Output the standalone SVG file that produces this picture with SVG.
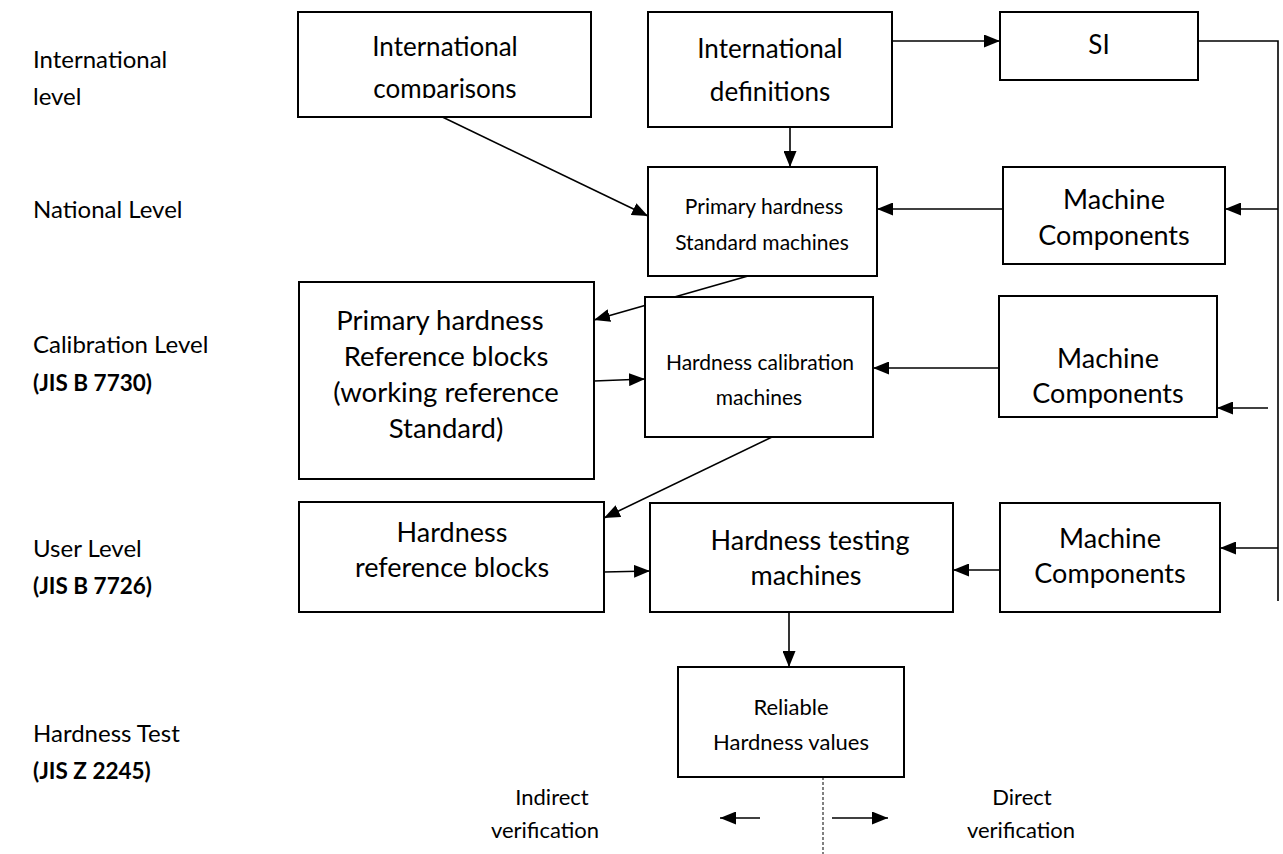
<svg xmlns="http://www.w3.org/2000/svg" width="1283" height="854" viewBox="0 0 1283 854">
<style>
.box{fill:#fff;stroke:#000;stroke-width:2}
.t{font-family:Lato,"Liberation Sans",sans-serif;font-size:21px;fill:#000;text-anchor:middle}
.l{font-family:Lato,"Liberation Sans",sans-serif;font-size:24px;fill:#000}
.b{font-weight:bold;font-size:22.5px}
.s26{font-size:26px}
.s27{font-size:27px}
.s28{font-size:27.5px}
.s22{font-size:22px}
.c{stroke:#000;stroke-width:1.6;fill:none}
.a{marker-end:url(#ah)}
</style>
<defs>
<marker id="ah" markerWidth="16" markerHeight="13" refX="16" refY="6.5" orient="auto" markerUnits="userSpaceOnUse">
<path d="M0,0 L16,6.5 L0,13 Z" fill="#000"/>
</marker>
<clipPath id="clipComp"><rect x="298" y="12" width="294" height="86"/></clipPath>
</defs>
<rect width="1283" height="854" fill="#fff"/>
<g id="levels">
<text class="l" x="33" y="68">International</text>
<text class="l" x="33" y="105">level</text>
<text class="l" x="33" y="218">National Level</text>
<text class="l" x="33" y="353">Calibration Level</text>
<text class="l b" x="33" y="391">(JIS B 7730)</text>
<text class="l" x="33" y="557">User Level</text>
<text class="l b" x="33" y="594">(JIS B 7726)</text>
<text class="l" x="33" y="742">Hardness Test</text>
<text class="l b" x="33" y="779">(JIS Z 2245)</text>
</g>
<g id="connectors">
<line class="c a" x1="432" y1="112" x2="648" y2="216"/>
<line class="c a" x1="790" y1="110" x2="790" y2="167"/>
<line class="c a" x1="892" y1="41" x2="1000" y2="41"/>
<polyline class="c" points="1198,41 1278,41 1278,601"/>
<line class="c a" x1="1278" y1="209" x2="1225" y2="209"/>
<line class="c a" x1="1003" y1="209" x2="877" y2="209"/>
<line class="c a" x1="748" y1="276" x2="594" y2="320"/>
<line class="c a" x1="594" y1="381" x2="645" y2="379"/>
<line class="c a" x1="1268" y1="408" x2="1217" y2="408"/>
<line class="c a" x1="999" y1="368" x2="873" y2="368"/>
<line class="c a" x1="772" y1="437" x2="604" y2="518"/>
<line class="c a" x1="604" y1="572" x2="650" y2="571"/>
<line class="c a" x1="1000" y1="570" x2="953" y2="570"/>
<line class="c a" x1="1278" y1="548" x2="1220" y2="548"/>
<line class="c a" x1="789" y1="612" x2="789" y2="667"/>
<line x1="823" y1="777" x2="823" y2="854" stroke="#000" stroke-width="1" stroke-dasharray="3,2"/>
<line class="c a" x1="760" y1="818" x2="720" y2="818"/>
<line class="c a" x1="832" y1="818" x2="888" y2="818"/>
</g>
<g id="n-comparisons">
<rect class="box" x="298" y="12" width="293" height="105"/>
<g clip-path="url(#clipComp)">
<text class="t s26" x="445" y="56">International</text>
<text class="t s26" x="445" y="98">comparisons</text>
</g>
</g>
<g id="n-definitions">
<rect class="box" x="648" y="12" width="244" height="115"/>
<text class="t s26" x="770" y="58">International</text>
<text class="t s26" x="770" y="101">definitions</text>
</g>
<g id="n-si">
<rect class="box" x="1000" y="12" width="198" height="68"/>
<text class="t s26" x="1099" y="54">SI</text>
</g>
<g id="n-primary-std">
<rect class="box" x="648" y="167" width="229" height="109"/>
<text class="t" x="764" y="214">Primary hardness</text>
<text class="t" x="762" y="250">Standard machines</text>
</g>
<g id="n-mc1">
<rect class="box" x="1003" y="167" width="222" height="97"/>
<text class="t s27" x="1114" y="209">Machine</text>
<text class="t s27" x="1114" y="245">Components</text>
</g>
<g id="n-ref-blocks">
<rect class="box" x="299" y="282" width="295" height="197"/>
<text class="t s28" x="440" y="330">Primary hardness</text>
<text class="t s28" x="446" y="366">Reference blocks</text>
<text class="t s28" x="446" y="402">(working reference</text>
<text class="t s28" x="446" y="438">Standard)</text>
</g>
<g id="n-calibration">
<rect class="box" x="645" y="297" width="228" height="140"/>
<text class="t" x="760" y="370">Hardness calibration</text>
<text class="t" x="759" y="405">machines</text>
</g>
<g id="n-mc2">
<rect class="box" x="999" y="296" width="218" height="121"/>
<text class="t s27" x="1108" y="368">Machine</text>
<text class="t s27" x="1108" y="403">Components</text>
</g>
<g id="n-hardness-ref">
<rect class="box" x="299" y="502" width="305" height="110"/>
<text class="t s27" x="452" y="542">Hardness</text>
<text class="t s27" x="452" y="577">reference blocks</text>
</g>
<g id="n-testing">
<rect class="box" x="650" y="503" width="303" height="109"/>
<text class="t s27" x="810" y="550">Hardness testing</text>
<text class="t s27" x="806" y="585">machines</text>
</g>
<g id="n-mc3">
<rect class="box" x="1000" y="503" width="220" height="109"/>
<text class="t s27" x="1110" y="548">Machine</text>
<text class="t s27" x="1110" y="583">Components</text>
</g>
<g id="n-reliable">
<rect class="box" x="678" y="667" width="226" height="110"/>
<text class="t s22" x="791" y="715">Reliable</text>
<text class="t s22" x="791" y="750">Hardness values</text>
</g>
<g id="verification">
<text class="t s22" x="552" y="805">Indirect</text>
<text class="t s22" x="545" y="838">verification</text>
<text class="t s22" x="1022" y="805">Direct</text>
<text class="t s22" x="1021" y="838">verification</text>
</g>
</svg>
